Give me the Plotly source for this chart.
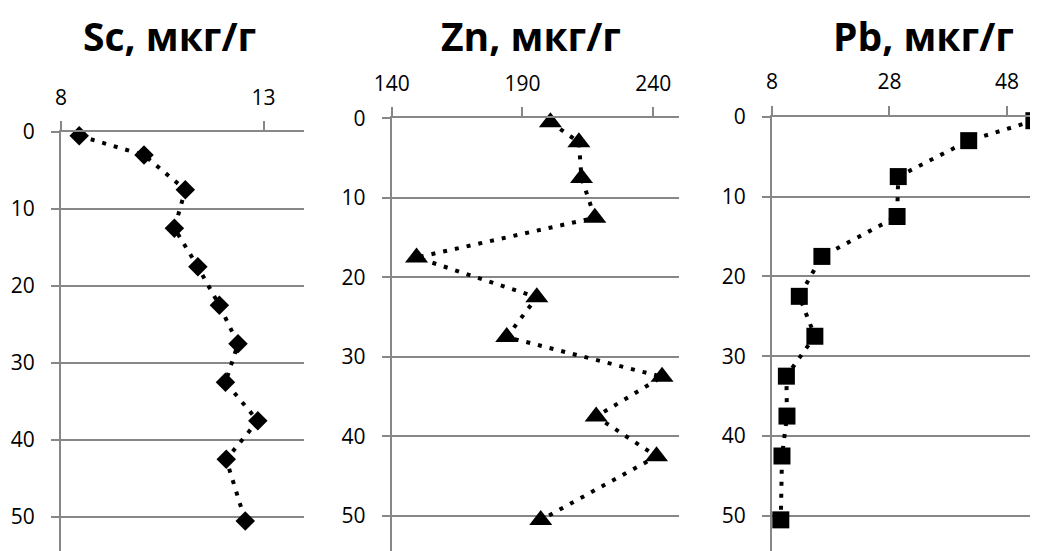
import plotly.graph_objects as go

# ---- data ----
depth = [0.5, 3, 7.5, 12.5, 17.5, 22.5, 27.5, 32.5, 37.5, 42.5, 50.5]
sc_values = [8.45, 10.05, 11.07, 10.8, 11.38, 11.91, 12.37, 12.06, 12.86, 12.08, 12.55]
zn_values = [200.7, 211.6, 212.6, 217.7, 149.5, 195.5, 184.0, 243.4, 218.2, 241.3, 197.0]
pb_values = [52.6, 41.5, 29.5, 29.3, 16.5, 12.65, 15.3, 10.45, 10.55, 9.7, 9.5]
titles = ["Sc, мкг/г", "Zn, мкг/г", "Pb, мкг/г"]

# page has an 8px body margin, so the figure is placed at (8, 8)
OFF = 8
W, H = 1038 - OFF, 551 - OFF
GRID = "#878787"
FONT = "Open Sans"

def fx(p):
    return (p - OFF) / W

def fy(p):
    return 1 - (p - OFF) / H

panels = [
    dict(vals=sc_values, symbol="diamond", size=15, xr=[8, 14], tick0=8, dtick=5,
         xdom=(61, 304), ytop=132, tx=169),
    dict(vals=zn_values, symbol="triangle-up", size=20, xr=[140, 250], tick0=140, dtick=50,
         xdom=(391.7, 679.3), ytop=118.3, tx=531),
    dict(vals=pb_values, symbol="square", size=17, xr=[8, 53.3], tick0=8, dtick=20,
         xdom=(772, 1038), ytop=116.7, tx=923),
]

fig = go.Figure()
layout = dict(
    template="none",
    width=W, height=H,
    margin=dict(l=0, r=0, t=0, b=0, pad=0),
    paper_bgcolor="white", plot_bgcolor="white",
    showlegend=False,
    annotations=[],
)

for i, p in enumerate(panels):
    n = "" if i == 0 else str(i + 1)
    fig.add_trace(go.Scatter(
        x=p["vals"], y=depth, xaxis="x" + n, yaxis="y" + n,
        mode="lines+markers",
        line=dict(color="black", width=4, dash="4px,8px"),
        marker=dict(symbol=p["symbol"], size=p["size"], color="black",
                    line=dict(width=0)),
        cliponaxis=False,
    ))
    layout["xaxis" + n] = dict(
        domain=[fx(p["xdom"][0]), min(1.0, fx(p["xdom"][1]))],
        range=p["xr"], side="top", anchor="y" + n, automargin=False,
        tickmode="linear", tick0=p["tick0"], dtick=p["dtick"],
        ticks="outside", ticklen=9, tickwidth=2, tickcolor=GRID,
        showline=True, linecolor=GRID, linewidth=2,
        showgrid=False, zeroline=False,
        tickfont=dict(family=FONT, size=21, color="black"),
        ticklabelstandoff=8,
    )
    layout["yaxis" + n] = dict(
        domain=[0, fy(p["ytop"])],
        range=[54.4, 0], anchor="x" + n, automargin=False,
        tickmode="linear", tick0=0, dtick=10,
        ticks="outside", ticklen=8, tickwidth=2, tickcolor=GRID,
        showline=True, linecolor=GRID, linewidth=2,
        showgrid=True, gridcolor=GRID, gridwidth=2, zeroline=False,
        tickfont=dict(family=FONT, size=21, color="black"),
        ticklabelstandoff=12,
    )
    layout["annotations"].append(dict(
        text="<b>" + titles[i] + "</b>", xref="paper", yref="paper",
        x=fx(p["tx"]), y=fy(36), xanchor="center", yanchor="middle",
        showarrow=False, font=dict(family=FONT, size=39, color="black"),
    ))

fig.update_layout(**layout)
fig.write_html("out.html")
